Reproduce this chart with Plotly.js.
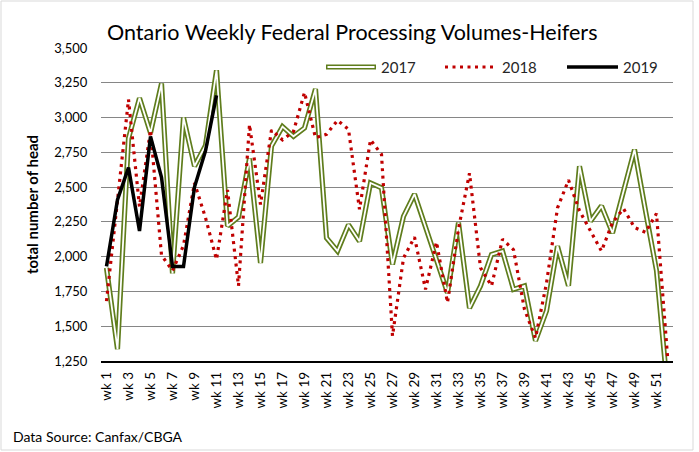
<!DOCTYPE html>
<html>
<head>
<meta charset="utf-8">
<script src="https://cdn.plot.ly/plotly-3.0.1.min.js"></script>
<style>html,body{margin:0;padding:0;background:#fff;}#chart{width:699px;height:452px;}</style>
</head>
<body>
<div id="chart"></div>
<script>
var weeks = [];
for (var i = 1; i <= 52; i++) { weeks.push('wk ' + i); }
var tickWeeks = weeks.filter(function (w, i) { return i % 2 === 0; });

var y2017 = [1920, 1335, 2850, 3140, 2890, 3245, 1880, 3000, 2650, 2800,
             3340, 2220, 2285, 2705, 1955, 2795, 2935, 2865, 2925, 3205,
             2135, 2040, 2230, 2110, 2530, 2495, 1945, 2290, 2450, 2210,
             1975, 1740, 2245, 1630, 1790, 2015, 2040, 1765, 1790, 1395,
             1610, 2075, 1790, 2650, 2255, 2365, 2170, 2470, 2770, 2330,
             1900, 1050];
var y2018 = [1680, 2400, 3130, 2360, 2910, 2010, 1900, 2080, 2530, 2280,
             1980, 2480, 1790, 2950, 2375, 2910, 2840, 2900, 3180, 2855,
             2880, 2980, 2915, 2340, 2840, 2735, 1430, 1990, 2140, 1765,
             2105, 1670, 2200, 2600, 1920, 1790, 2125, 2050, 1620, 1415,
             1810, 2350, 2550, 2330, 2185, 2040, 2245, 2345, 2210, 2175,
             2310, 1285];
var y2019 = [1930, 2410, 2640, 2185, 2865, 2570, 1930, 1930, 2500, 2760, 3160];

var GREEN = '#5f7d1c', RED = '#c00000', FONT = 'Lato, "Liberation Sans", sans-serif';
var DOTS = '3px,4.5px';

var traces = [
  {x: weeks, y: y2017, type: 'scatter', mode: 'lines', name: '2017',
   line: {color: GREEN, width: 5.2}, showlegend: false, hoverinfo: 'skip'},
  {x: weeks, y: y2017, type: 'scatter', mode: 'lines', name: '2017 inner',
   line: {color: '#ffffff', width: 1.8}, showlegend: false, hoverinfo: 'skip'},
  {x: weeks, y: y2018, type: 'scatter', mode: 'lines', name: '2018',
   line: {color: RED, width: 3.2, dash: DOTS}, showlegend: false},
  {x: weeks.slice(0, y2019.length), y: y2019, type: 'scatter', mode: 'lines', name: '2019',
   line: {color: '#000000', width: 3.5}, showlegend: false}
];

// pixel -> paper helpers for the hand-made legend and frame
var L = 101, R = 673, T = 48, B = 361;
function px(x) { return (x - L) / (R - L); }
function py(y) { return (B - y) / (B - T); }

var legY = 67;
var shapes = [
  {type: 'rect', xref: 'paper', yref: 'paper', x0: px(1), x1: px(693), y0: py(450), y1: py(1),
   line: {color: '#d9d9d9', width: 1}, fillcolor: 'rgba(0,0,0,0)', layer: 'below'},
  {type: 'line', xref: 'paper', yref: 'paper', x0: px(326), x1: px(376), y0: py(legY), y1: py(legY),
   line: {color: GREEN, width: 5.2}},
  {type: 'line', xref: 'paper', yref: 'paper', x0: px(327.5), x1: px(374.5), y0: py(legY), y1: py(legY),
   line: {color: '#ffffff', width: 1.8}},
  {type: 'line', xref: 'paper', yref: 'paper', x0: px(445), x1: px(495), y0: py(legY), y1: py(legY),
   line: {color: RED, width: 3.2, dash: DOTS}},
  {type: 'line', xref: 'paper', yref: 'paper', x0: px(567), x1: px(618), y0: py(legY), y1: py(legY),
   line: {color: '#000000', width: 3.5}}
];

var annotations = [
  {text: '2017', xref: 'paper', yref: 'paper', x: px(379), y: py(legY), xanchor: 'left', yanchor: 'middle',
   showarrow: false, font: {family: FONT, size: 15, color: '#262626'}},
  {text: '2018', xref: 'paper', yref: 'paper', x: px(500), y: py(legY), xanchor: 'left', yanchor: 'middle',
   showarrow: false, font: {family: FONT, size: 15, color: '#262626'}},
  {text: '2019', xref: 'paper', yref: 'paper', x: px(621), y: py(legY), xanchor: 'left', yanchor: 'middle',
   showarrow: false, font: {family: FONT, size: 15, color: '#262626'}},
  {text: 'Data Source: Canfax/CBGA', xref: 'paper', yref: 'paper', x: px(11), y: py(436),
   xanchor: 'left', yanchor: 'middle', showarrow: false, font: {family: FONT, size: 14, color: '#000000'}}
];

var layout = {
  width: 699, height: 452,
  margin: {l: L, r: 699 - R, t: T, b: 452 - B, pad: 0},
  paper_bgcolor: '#ffffff', plot_bgcolor: '#ffffff',
  font: {family: FONT, color: '#000000'},
  title: {text: 'Ontario Weekly Federal Processing Volumes-Heifers', x: 107 / 699, xanchor: 'left',
          xref: 'container', y: 1 - 32 / 452, yanchor: 'middle', yref: 'container',
          font: {family: FONT, size: 21.5, color: '#000000'}},
  showlegend: false,
  xaxis: {type: 'category', categoryorder: 'array', categoryarray: weeks, range: [-0.5, 51.5],
          tickmode: 'array', tickvals: tickWeeks, ticktext: tickWeeks, tickangle: -90,
          ticks: 'outside', ticklen: 4, tickcolor: 'rgba(0,0,0,0)',
          showgrid: false, zeroline: false, showline: true, linecolor: '#000000', linewidth: 1.5,
          tickfont: {family: FONT, size: 13.5, color: '#000000'}, automargin: false},
  yaxis: {range: [1250, 3500], tick0: 1250, dtick: 250, tickformat: ',d',
          ticks: 'outside', ticklen: 10, tickcolor: 'rgba(0,0,0,0)',
          showgrid: true, gridcolor: '#868686', gridwidth: 1, zeroline: false, showline: false,
          tickfont: {family: FONT, size: 13, color: '#000000'}, automargin: false,
          title: {text: '<b>total number of head</b>', standoff: 12, font: {family: FONT, size: 15, color: '#000000'}}},
  shapes: shapes,
  annotations: annotations
};

Plotly.newPlot('chart', traces, layout, {displayModeBar: false, staticPlot: true});
</script>
</body>
</html>
